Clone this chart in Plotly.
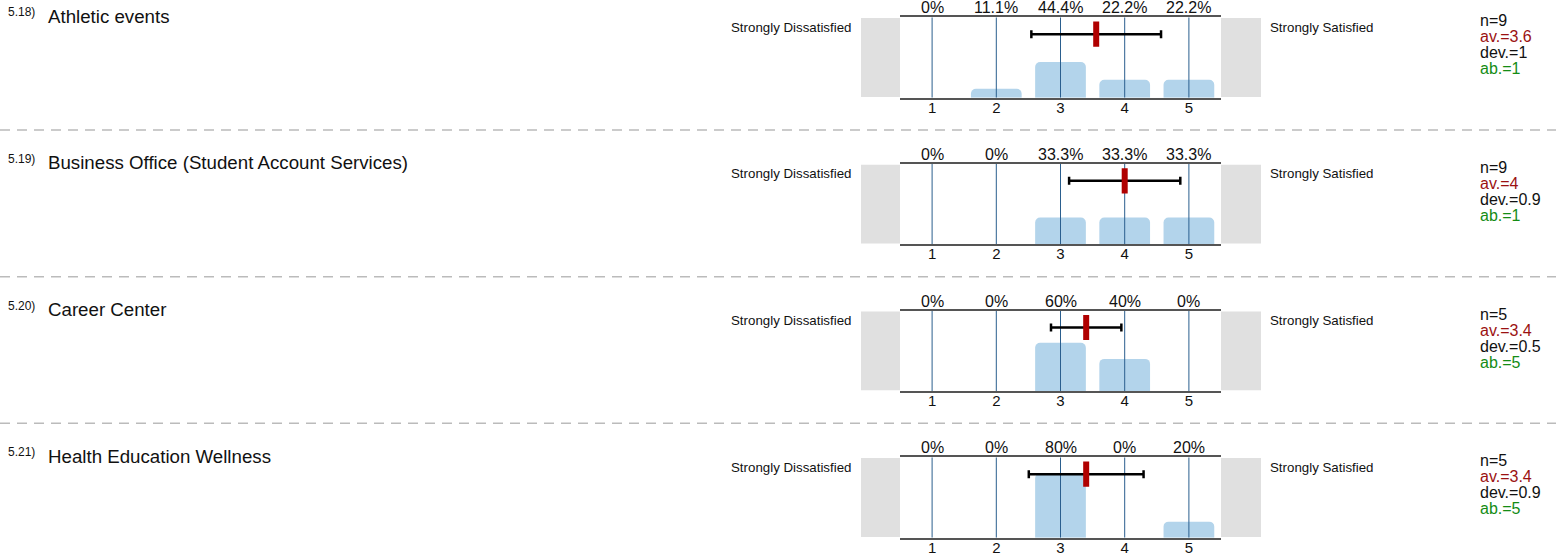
import plotly.graph_objects as go

W, H = 1556, 555

numbers = ["5.18)", "5.19)", "5.20)", "5.21)"]
titles = ["Athletic events", "Business Office (Student Account Services)",
          "Career Center", "Health Education Wellness"]
scale = [1, 2, 3, 4, 5]
pct_athletic = [0, 11.1, 44.4, 22.2, 22.2]
pct_business = [0, 0, 33.3, 33.3, 33.3]
pct_career = [0, 0, 60, 40, 0]
pct_health = [0, 0, 80, 0, 20]
pct_labels = [["0%", "11.1%", "44.4%", "22.2%", "22.2%"],
              ["0%", "0%", "33.3%", "33.3%", "33.3%"],
              ["0%", "0%", "60%", "40%", "0%"],
              ["0%", "0%", "80%", "0%", "20%"]]
n_vals = [9, 9, 5, 5]
means = [3.556, 4.0, 3.4, 3.4]
devs = [1.01, 0.866, 0.548, 0.894]
av_labels = ["3.6", "4", "3.4", "3.4"]
dev_labels = ["1", "0.9", "0.5", "0.9"]
ab_vals = [1, 1, 5, 5]
left_label = "Strongly Dissatisfied"
right_label = "Strongly Satisfied"

pcts = [pct_athletic, pct_business, pct_career, pct_health]

def px(x):
    return x / W

def py(y):
    return 1 - y / H

FONT = "Liberation Sans, Arial, sans-serif"
ROW = 146.67
TOP0 = 17.3
PH = 80.4

fig = go.Figure()
layout = dict(
    width=W, height=H, margin=dict(l=0, r=0, t=0, b=0, autoexpand=False),
    paper_bgcolor="white", plot_bgcolor="white", showlegend=False,
    barcornerradius=5, font=dict(family=FONT, color="#111"),
)
annotations = []
shapes = []

for i in range(4):
    xa = "x" if i == 0 else f"x{i+1}"
    ya = "y" if i == 0 else f"y{i+1}"
    xkey = "xaxis" if i == 0 else f"xaxis{i+1}"
    ykey = "yaxis" if i == 0 else f"yaxis{i+1}"
    top = TOP0 + i * ROW
    layout[xkey] = dict(
        domain=[px(900), px(1221)], range=[0.5, 5.5], anchor=ya,
        tickvals=scale, ticktext=[str(s) for s in scale],
        showgrid=False, zeroline=False, showline=True, mirror=True,
        linecolor="#555", linewidth=2, ticks="", fixedrange=True, automargin=False,
        ticklabelstandoff=-5,
        tickfont=dict(size=15, color="#111", family=FONT),
    )
    layout[ykey] = dict(
        domain=[py(top + PH), py(top)], range=[0, 100], anchor=xa,
        showgrid=False, zeroline=False, showticklabels=False, showline=False,
        fixedrange=True, automargin=False,
    )
    fig.add_trace(go.Bar(x=scale, y=pcts[i], width=0.79, marker_color="#b3d4eb",
                         marker_line_width=0, xaxis=xa, yaxis=ya))
    gx, gy = [], []
    for s in scale:
        gx += [s, s, None]
        gy += [0, 100, None]
    fig.add_trace(go.Scatter(x=gx, y=gy, mode="lines", line=dict(color="#2a5e8e", width=1),
                             xaxis=xa, yaxis=ya, hoverinfo="skip"))
    fig.add_trace(go.Scatter(x=[means[i]], y=[79], mode="markers",
                             marker=dict(size=1, color="black", opacity=0),
                             error_x=dict(type="data", array=[devs[i]], symmetric=True,
                                          color="black", thickness=2.5, width=4),
                             xaxis=xa, yaxis=ya))
    fig.add_trace(go.Scatter(x=[means[i]], y=[79], mode="markers",
                             marker=dict(symbol="line-ns", size=18,
                                         line=dict(color="#b00000", width=6)),
                             xaxis=xa, yaxis=ya))
    for s, lab in zip(scale, pct_labels[i]):
        annotations.append(dict(x=s, y=1, xref=xa, yref=f"{ya} domain", text=lab,
                                showarrow=False, yanchor="bottom", yshift=-1,
                                font=dict(size=16, color="#111")))
    # gray end boxes
    for x0, x1 in [(861, 900), (1221, 1261)]:
        shapes.append(dict(type="rect", xref="paper", yref=f"{ya} domain",
                           x0=px(x0), x1=px(x1), y0=0.01, y1=0.99,
                           fillcolor="#e0e0e0", line_width=0, layer="below"))
    annotations.append(dict(x=px(853), y=py(top + 10), xref="paper", yref="paper",
                            text=left_label, showarrow=False, xanchor="right",
                            yanchor="middle", font=dict(size=13.3, color="#111")))
    annotations.append(dict(x=px(1268), y=py(top + 10), xref="paper", yref="paper",
                            text=right_label, showarrow=False, xanchor="left",
                            yanchor="middle", font=dict(size=13.3, color="#111")))
    # titles
    annotations.append(dict(x=px(6), y=py(top - 5), xref="paper", yref="paper",
                            text=numbers[i], showarrow=False, xanchor="left",
                            yanchor="middle", font=dict(size=12, color="#111")))
    annotations.append(dict(x=px(46), y=py(top - 1), xref="paper", yref="paper",
                            text=titles[i], showarrow=False, xanchor="left",
                            yanchor="middle", font=dict(size=18.7, color="#111")))
    # stats
    stats = [(f"n={n_vals[i]}", "#111"), (f"av.={av_labels[i]}", "#9b1111"),
             (f"dev.={dev_labels[i]}", "#111"), (f"ab.={ab_vals[i]}", "#148c14")]
    for k, (t, c) in enumerate(stats):
        annotations.append(dict(x=px(1478), y=py(top + 3.5 + 16 * k), xref="paper", yref="paper",
                                text=t, showarrow=False, xanchor="left", yanchor="middle",
                                font=dict(size=16, color=c)))
    if i < 3:
        ysep = 130 + i * ROW
        shapes.append(dict(type="line", xref="paper", yref="paper", x0=0, x1=1,
                           y0=py(ysep), y1=py(ysep),
                           line=dict(color="#bbbbbb", width=1.5, dash="10px,7px")))

layout["annotations"] = annotations
layout["shapes"] = shapes
fig.update_layout(**layout)
fig.write_html("out.html", config={"displayModeBar": False},
               post_script="document.body.style.margin='0px';")
